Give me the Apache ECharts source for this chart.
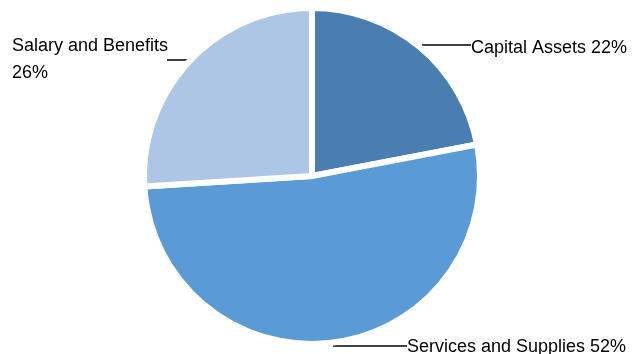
<!DOCTYPE html>
<html>
<head>
<meta charset="utf-8">
<script src="https://cdn.jsdelivr.net/npm/echarts@6/dist/echarts.min.js"></script>
<style>
html,body{margin:0;padding:0;background:#fff;}
#chart{width:639px;height:354px;}
</style>
</head>
<body>
<div id="chart"></div>
<script>
var categories = ['Capital Assets', 'Services and Supplies', 'Salary and Benefits'];
var values = [22, 52, 26];
var colors = ['#4a7eb0', '#5b9bd5', '#adc6e5'];

var chart = echarts.init(document.getElementById('chart'), null, {renderer: 'canvas'});

var labelSpots = [
  {x: 471, y: 48, align: 'left', line: [[422, 45], [446, 45], [471, 45]]},
  {x: 407, y: 347, align: 'left', line: [[333, 346], [370, 346], [407, 346]]},
  {x: 12, y: 60, align: 'left', line: [[167, 60], [179, 60], [191, 60]]}
];

chart.setOption({
  animation: false,
  backgroundColor: '#ffffff',
  series: [{
    type: 'pie',
    center: [312, 176],
    radius: 168,
    startAngle: 90,
    clockwise: true,
    data: categories.map(function (c, i) {
      return {name: c, value: values[i], itemStyle: {color: colors[i]}};
    }),
    itemStyle: {borderColor: '#ffffff', borderWidth: 6},
    label: {
      show: true,
      position: 'outside',
      overflow: 'none',
      fontFamily: "'Liberation Sans', Arial, sans-serif",
      fontSize: 18,
      lineHeight: 27,
      color: '#000000',
      formatter: function (p) {
        if (p.dataIndex === 2) return p.name + '\n' + Math.round(p.percent) + '%';
        return p.name + ' ' + Math.round(p.percent) + '%';
      }
    },
    labelLine: {show: true, lineStyle: {color: '#000000', width: 1.5}},
    labelLayout: function (params) {
      var s = labelSpots[params.dataIndex];
      return {x: s.x, y: s.y, align: s.align, verticalAlign: 'middle', labelLinePoints: s.line};
    },
    emphasis: {disabled: true}
  }]
});
</script>
</body>
</html>
